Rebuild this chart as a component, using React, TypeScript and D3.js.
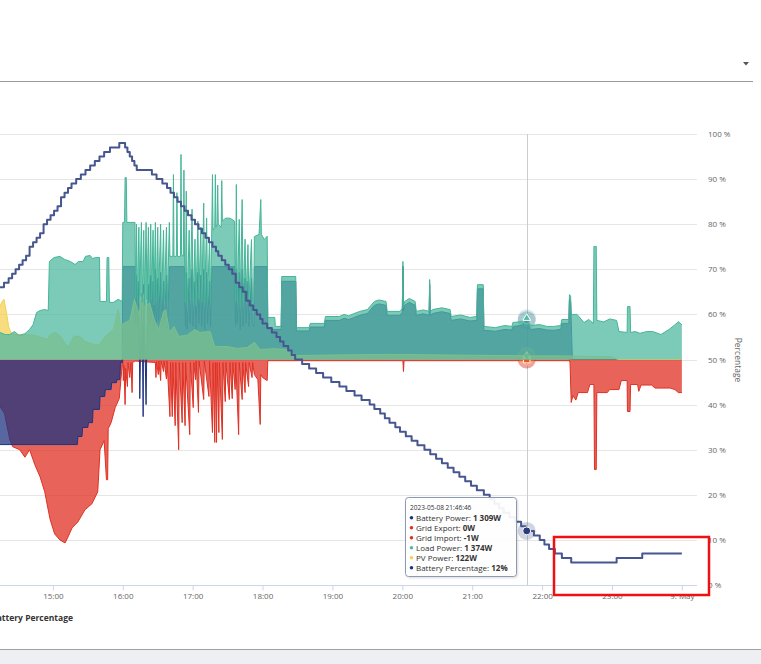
import React, { useEffect, useRef } from 'react';
import * as d3 from 'd3';

// [minutes after 2023-05-08 14:00, value]
type Pt = [number, number];

const loadPower: Pt[] = [
  [14.5, 900], [19, 830], [23, 830], [27, 930], [31, 800], [36, 860], [40, 1000], [43, 1160], [46, 1560], [49, 1630],
  [53, 1660], [56, 1630], [57, 3260], [61, 3390], [66, 3430], [70, 3330], [75, 3260], [79, 3160], [82, 3260], [86, 3260],
  [88, 3430], [92, 3460], [94, 3360], [97, 3390], [100, 3390], [100.5, 1930], [106, 1930], [106.5, 3390], [108, 3390],
  [108.5, 1900], [112, 1900], [116, 2000], [119.5, 1930],
  [120, 4560], [121.5, 4560], [122, 6050], [123, 6050], [123.5, 4560], [130.5, 4560],
  [131, 2000], [131.8, 4500], [132.6, 1900], [133.8, 4400], [134.6, 2100], [136, 4560], [136.8, 1900], [138, 4300],
  [138.8, 1800], [140, 4560], [140.8, 2000], [142, 4400], [142.8, 1900], [144, 4500], [144.8, 2000], [146, 4300],
  [146.8, 1800], [148, 4560], [148.8, 1900], [150, 4400], [150.8, 2100], [152.5, 4500], [153.3, 1900], [155, 4300],
  [155.8, 2000], [157.5, 4400], [158.3, 1900], [160, 4560],
  [160.5, 3430], [163, 3430], [163.5, 6150], [164, 3430], [166, 3430], [166.5, 5550], [167, 3430], [169.5, 3430],
  [170, 6820], [170.5, 3500], [172, 3430], [172.5, 6300], [173, 3400],
  [173.8, 1900], [174.5, 5600], [175.3, 1800], [177, 4300], [177.8, 2000], [179.5, 5000], [180.3, 1900], [182, 4000],
  [182.8, 1800], [184.5, 4600], [185.3, 2000], [187, 4400], [187.8, 1900], [189.5, 5200], [190.3, 1800], [192, 4700],
  [192.8, 2000], [194.5, 4000], [195.3, 1900],
  [196.5, 4500], [197, 6150], [197.5, 4300], [199, 4400], [199.5, 6150], [200, 4400], [201, 4500], [201.5, 5800],
  [202, 4500], [204.5, 4400], [205, 5950], [205.5, 4600], [208, 4700], [212, 4700], [216, 4600],
  [216.8, 1900], [217.5, 5820], [218.3, 2000], [220, 4660], [220.8, 1800], [222.5, 5320], [223.3, 1900], [225, 4000],
  [225.8, 2000], [227.5, 3820], [228.3, 1900], [230.5, 3990], [231.3, 2000], [232.5, 1900],
  [233, 4090], [237, 4160], [238.5, 5320], [239, 4160], [241.5, 3990], [244, 4100],
  [244.5, 1400], [250.5, 1400], [251, 1100], [256, 1100], [256.5, 2760], [268.5, 2760], [269, 1060], [280, 1060],
  [281, 1200], [293, 1200], [294, 1430], [306, 1430], [310, 1500], [314, 1450], [318, 1520], [323.5, 1600], [330, 1660],
  [336, 1930], [340, 1980], [346, 1930], [347, 1600], [358, 1600], [360, 1700], [360.5, 3260], [361, 1750], [362, 1930],
  [366, 2030], [371, 1930], [372, 1600], [378, 1650], [383, 1600], [383.5, 2660], [384, 1600], [386, 1660], [394, 1720],
  [401, 1660], [402, 1430], [410, 1480], [418, 1400], [424, 1430], [424.5, 2490], [429.5, 2490], [430, 1100],
  [440, 1060], [448, 1130], [454, 1100], [455, 1230], [462, 1260], [466.8, 1374], [470, 1130], [478, 1160], [484, 1100],
  [490, 1100], [496, 1130], [497, 1330], [503, 1330], [503.5, 2160], [504.5, 2100], [505, 1500], [510, 1500],
  [516, 1230], [520, 1330], [524, 1200], [524.5, 3760], [526.5, 3760], [527, 1300], [533, 1250], [538, 1350],
  [544, 1300], [546, 930], [553, 900], [553.3, 1760], [555.5, 1760], [556, 900], [560, 930], [564, 870], [570, 930],
  [575, 930], [582, 830], [589, 1000], [594, 1150], [597, 1260], [600, 1150],
];

const batteryPower: Pt[] = [
  [14.5, -2830], [81, -2830], [81.5, -2560], [85, -2560], [85.5, -2260], [90, -2260], [90.5, -2100], [94, -2100],
  [94.5, -1660], [100, -1660], [100.5, -1230], [104.5, -1230], [105, -1000], [110, -1000], [110.5, -770], [114.5, -770],
  [115, -670], [117.5, -670], [118, -100], [119.5, -100],
  [120, 3090], [130.5, 3090],
  [131, 1200], [131.8, 2800], [132.6, 1100], [133.8, 2600], [134.6, -1300], [136, 2200], [136.8, 1000], [137.5, -1900],
  [138, 2500], [138.8, 1100], [140, -1500], [140.8, 1000], [142, 2500], [142.8, 1200], [144, 2800], [144.8, 1300],
  [146, 2600], [146.8, 1100], [148, 3000], [148.8, 1200], [150, 2700], [150.8, 1300], [152.5, 2900], [153.3, 1100],
  [155, 2600], [155.8, 1200], [157.5, 2800], [158.3, 1000], [160, 3090],
  [160.5, 3090], [173, 3090],
  [173.8, 1100], [174.5, 2900], [175.3, 1000], [177, 2700], [177.8, 1200], [179.5, 3000], [180.3, 1100], [182, 2600],
  [182.8, 1000], [184.5, 2900], [185.3, 1200], [187, 2800], [187.8, 1100], [189.5, 3000], [190.3, 1000], [192, 2900],
  [192.8, 1200], [194.5, 2600], [195.3, 1100],
  [196.5, 3090], [216, 3090],
  [216.8, 1100], [217.5, 3000], [218.3, 1200], [220, 2900], [220.8, 1000], [222.5, 3000], [223.3, 1100], [225, 2700],
  [225.8, 1200], [227.5, 2600], [228.3, 1100], [230.5, 2700], [231.3, 1200], [232.5, 1100],
  [233, 3090], [244, 3090],
  [244.5, 1000], [256, 1000], [256.5, 2600], [268.5, 2600], [269, 950], [280, 950], [281, 1080], [293, 1080],
  [294, 1300], [306, 1300], [310, 1370], [314, 1330], [318, 1390], [323.5, 1470], [330, 1530], [336, 1800], [340, 1850],
  [346, 1800], [347, 1470], [358, 1470], [360, 1570], [360.5, 3100], [361, 1620], [362, 1800], [366, 1900], [371, 1800],
  [372, 1470], [378, 1520], [383, 1470], [383.5, 2500], [384, 1470], [386, 1530], [394, 1590], [401, 1530], [402, 1300],
  [410, 1350], [418, 1280], [424, 1300], [424.5, 2350], [429.5, 2350], [430, 970], [440, 940], [448, 1000], [454, 980],
  [455, 1100], [462, 1130], [466.8, 1309], [470, 1000], [478, 1030], [484, 980], [490, 970], [496, 1000], [497, 1200],
  [503, 1200], [503.5, 2000], [504.5, 1900], [505, 1300], [506, 0], [600, 0],
];

const pvPower: Pt[] = [
  [14.5, 1760], [16, 1900], [18, 2000], [20, 1600], [22, 1100], [24, 900], [27, 830], [35, 830], [45, 800], [55, 670],
  [58, 830], [62, 900], [66, 800], [73, 400], [78, 770], [83, 770], [88, 600], [95, 500], [100, 500], [105, 770],
  [112, 1000], [116, 1660], [118, 1160], [121, 1200], [126, 1300], [130, 2000], [134, 1500], [137, 2230], [140, 1760],
  [143, 1900], [147, 1330], [151, 1000], [155, 1600], [157, 1660], [160, 900], [164, 1100], [168, 770], [175, 800],
  [182, 1000], [186, 900], [195, 930], [199, 430], [210, 430], [218, 370], [227, 400], [233, 570], [238, 330],
  [250, 360], [262, 330], [268, 130], [300, 150], [350, 170], [400, 150], [450, 130], [466.8, 122], [500, 120],
  [540, 90], [545, 0], [600, 0],
];

const gridExport: Pt[] = [
  [14.5, -1560], [18.5, -1800], [23, -2660], [25.5, -2900], [31.5, -3000], [36, -3250], [40, -3000], [44.5, -3500],
  [49, -3900], [53, -4400], [57.5, -5300], [61.5, -5800], [66, -6000], [70.5, -6100], [73, -5900], [76.5, -5600],
  [81.5, -5400], [87.5, -5000], [93.5, -4800], [98.5, -4400], [100.5, -3000], [104, -2700], [106, -4000], [107, -4000],
  [107.5, -2300], [110, -2100], [113.5, -1600], [117, -1300], [119, -400], [120, 0],
  [120.5, -700], [121, -200], [122, -1500], [122.5, -300], [124, -900], [124.5, -100], [126, -600], [127, -100],
  [128, -1100], [128.5, -100], [130.5, -50], [148, -100], [148.5, -600], [149, -50], [150.5, -500], [151, -50],
  [152.5, -700], [153, -50], [155, -400], [155.5, -50], [157.5, -650], [158, -50],
  [160.5, -1900], [161, -100], [162.5, -1900], [163, -100], [165, -2200], [165.5, -100], [168, -3000], [168.5, -100],
  [171, -2100], [171.5, -100], [173.5, -2200], [174, -100], [177.5, -2500], [178, -100], [180.5, -1600], [181, -100],
  [182.5, -670], [183, -50], [185, -1760], [185.5, -50], [189.5, -1330], [190, -50], [194, -1230], [194.5, -50],
  [197, -2430], [197.5, -100], [199, -2760], [199.5, -100], [200.5, -2760], [201, -100], [202.5, -2430], [203, -100],
  [205.5, -2660], [206, -100], [208, -1400], [208.5, -100], [211.5, -1330], [212, -100], [214, -1300], [214.5, -100],
  [216.5, -1000], [217, -100], [219.5, -2500], [220, -100], [222.5, -1330], [223, -100], [225, -1100], [225.5, -100],
  [228, -900], [228.5, -100], [231, -600], [231.5, -100], [233, -500], [236, -670], [238, -2160], [238.5, -500],
  [240, -600], [244, -700], [244.5, -40], [360.5, -40], [361, -400], [361.5, -40], [503, -40], [504, 0], [600, 0],
];

const gridImport: Pt[] = [
  [503, 0], [504, -100], [505, -1430], [506.5, -1200], [509, -1350], [511, -1100], [519, -1100], [521, -830],
  [524.5, -830], [525, -3660], [526.5, -3660], [527, -1100], [536, -1100], [538, -1000], [546, -1000], [548, -700],
  [553, -700], [553.3, -1730], [555.5, -1730], [556, -830], [562, -830], [563, -1060], [565, -850], [574, -850],
  [577, -950], [590, -950], [594, -1000], [597, -1100], [600, -1100],
];

const batteryPercentage: Pt[] = [
  [14.5, 66], [18, 67], [22, 68], [25, 69], [28, 70], [31, 71], [34, 72], [37, 73], [40, 75], [43, 76], [46, 77],
  [49, 78], [52, 80], [55, 81], [58, 82], [61, 83], [64, 84], [67, 86], [70, 87], [73, 88], [76, 89], [80, 90],
  [84, 91], [88, 92], [92, 93], [96, 94], [100, 95], [104, 96], [109, 97], [117, 98], [120, 98],
  [122, 97], [124, 96], [126, 95], [128, 94], [130, 93], [132, 92], [145, 91], [149, 90], [154, 89], [158, 88],
  [161, 87], [164, 86], [167, 85], [170, 84], [173, 83], [176, 82], [179, 81], [182, 80], [185, 79], [188, 78],
  [191, 77], [194, 76], [197, 75], [200, 74], [202, 73], [205, 72], [208, 71], [211, 70], [214, 69], [217, 67],
  [220, 66], [223, 65], [226, 63], [229, 62], [232, 61], [235, 60], [238, 59], [240, 58], [244, 57], [248, 56],
  [252, 55], [255, 54], [258, 53], [262, 52], [265, 51], [268, 50], [274, 49], [280, 48], [286, 47], [292, 46],
  [299, 45], [306, 44], [312, 43], [319, 42], [325, 41], [332, 40], [336, 39], [341, 38], [345, 37], [349, 36],
  [354, 35], [358, 34], [363, 33], [368, 32], [373, 31], [379, 30], [384, 29], [389, 28], [394, 27], [399, 26],
  [404, 25], [409, 24], [414, 23], [419, 22], [424, 21], [430, 20], [435, 19], [439, 18], [443, 17], [447, 16],
  [452, 15], [457, 14], [462, 13], [466, 12], [473, 11], [478, 10], [482, 9], [486, 8], [491, 7], [497, 6], [505, 5],
  [544, 6], [566, 7], [600, 7],
];

const percentTicks = [0, 10, 20, 30, 40, 50, 60, 70, 80, 90, 100];

const hoverMinute = 466.8;
const tooltipHeader = '2023-05-08 21:46:46';
const tooltipLabels = ['Battery Power', 'Grid Export', 'Grid Import', 'Load Power', 'PV Power', 'Battery Percentage'];
const tooltipValues = ['1 309W', '0W', '-1W', '1 374W', '122W', '12%'];
const hoverValues = [1309, 0, -1, 1374, 122, 12];

const NAVY = '#1f3480';
const RED = '#e03023';
const TEAL = '#50baa2';
const YELLOW = '#f5d055';
const PCT = '#46568f';

export default function App() {
  const svgRef = useRef<SVGSVGElement>(null);

  useEffect(() => {
    if (!svgRef.current) return;
    const W = 761, H = 664;
    const svg = d3.select(svgRef.current).attr('width', W).attr('height', H)
      .style('font-family', '"Open Sans", "Noto Sans", sans-serif');
    svg.selectAll('*').remove();

    const t0 = new Date(2023, 4, 8, 14, 0, 0);
    const toDate = (m: number) => new Date(t0.getTime() + m * 60000);

    const plotLeft = -17, plotRight = 697, plotTop = 134, plotBottom = 585;
    const x = d3.scaleTime().domain([t0, toDate(613)]).range([plotLeft, plotRight]);
    const yPct = d3.scaleLinear().domain([0, 100]).range([plotBottom, plotTop]);
    const yW = d3.scaleLinear().domain([-7500, 7500]).range([plotBottom, plotTop]);

    // header (select box)
    svg.append('line').attr('x1', 0).attr('x2', 753).attr('y1', 81.5).attr('y2', 81.5)
      .attr('stroke', '#9a9a9a').attr('stroke-width', 1.2);
    svg.append('path').attr('d', 'M743,62 L749,62 L746,65.5 Z').attr('fill', '#555');

    // gridlines
    svg.append('g').selectAll('line').data(percentTicks.filter(d => d > 0)).join('line')
      .attr('x1', 0).attr('x2', plotRight)
      .attr('y1', d => Math.round(yPct(d)) + 0.5).attr('y2', d => Math.round(yPct(d)) + 0.5)
      .attr('stroke', '#e6e6e6');

    const xh = x(toDate(hoverMinute));
    svg.append('line').attr('x1', Math.round(xh) + 0.5).attr('x2', Math.round(xh) + 0.5)
      .attr('y1', plotTop).attr('y2', plotBottom).attr('stroke', '#cccccc');

    const defs = svg.append('defs');
    defs.append('clipPath').attr('id', 'plotclip').append('rect')
      .attr('x', plotLeft).attr('y', plotTop - 10).attr('width', plotRight - plotLeft).attr('height', plotBottom - plotTop + 10);
    const shadow = defs.append('filter').attr('id', 'ttshadow').attr('x', '-10%').attr('y', '-10%')
      .attr('width', '130%').attr('height', '130%');
    shadow.append('feDropShadow').attr('dx', 1).attr('dy', 1).attr('stdDeviation', 1)
      .attr('flood-color', '#000').attr('flood-opacity', 0.15);

    const plot = svg.append('g').attr('clip-path', 'url(#plotclip)');
    const area = d3.area<Pt>().x(d => x(toDate(d[0]))).y0(yW(0)).y1(d => yW(d[1]));
    const line = d3.line<Pt>().x(d => x(toDate(d[0]))).y(d => yW(d[1]));

    const halo = (g: any, cy: number, color: string) =>
      g.append('circle').attr('cx', xh).attr('cy', cy).attr('r', 9).attr('fill', color).attr('opacity', 0.25);
    const marker = (g: any, type: any, cy: number, color: string, size = 42) =>
      g.append('path').attr('d', d3.symbol().type(type).size(size)()).attr('transform', `translate(${xh},${cy})`)
        .attr('fill', color).attr('stroke', '#fff').attr('stroke-width', 1);

    const series = (data: Pt[], color: string, type: any, hv: number) => {
      const g = plot.append('g');
      g.append('path').datum(data).attr('d', area).attr('fill', color).attr('fill-opacity', 0.75);
      g.append('path').datum(data).attr('d', line).attr('fill', 'none').attr('stroke', color).attr('stroke-width', 1);
      halo(g, yW(hv), color);
      marker(g, type, yW(hv), color);
    };

    series(gridExport, RED, d3.symbolDiamond, hoverValues[1]);
    series(gridImport, RED, d3.symbolSquare, hoverValues[2]);
    series(batteryPower, NAVY, d3.symbolCircle, hoverValues[0]);
    series(pvPower, YELLOW, d3.symbolTriangle2, hoverValues[4]);
    const lg = plot.append('g');
    lg.append('path').datum(loadPower).attr('d', area).attr('fill', TEAL).attr('fill-opacity', 0.75);
    lg.append('path').datum(loadPower).attr('d', line).attr('fill', 'none').attr('stroke', '#45b598').attr('stroke-width', 1);
    // PV marker is a downward triangle
    lg.append('path').attr('d', d3.symbol().type(d3.symbolTriangle2).size(34)())
      .attr('transform', `translate(${xh},${yW(hoverValues[4])}) rotate(180)`).attr('fill', '#6cb98f');
    halo(lg, yW(hoverValues[3]), TEAL);
    marker(lg, d3.symbolTriangle2, yW(hoverValues[3]), TEAL);

    // battery percentage
    const pctLine = d3.line<Pt>().x(d => x(toDate(d[0]))).y(d => yPct(d[1])).curve(d3.curveStepAfter);
    plot.append('path').datum(batteryPercentage).attr('d', pctLine).attr('fill', 'none')
      .attr('stroke', PCT).attr('stroke-width', 2).attr('stroke-linejoin', 'round');
    halo(plot, yPct(hoverValues[5]), PCT);
    marker(plot, d3.symbolCircle, yPct(hoverValues[5]), '#2a3a7a', 50);

    // x axis (ticks that fall inside the visible page)
    const hourTicks = d3.timeHour.every(1)!.range(toDate(60), toDate(601));
    const xAxis = d3.axisBottom(x).tickValues(hourTicks).tickSize(5).tickPadding(3)
      .tickFormat((d: any) => (d.getHours() === 0 ? '9. May' : d3.timeFormat('%H:%M')(d)));
    const gx = svg.append('g').attr('transform', `translate(0,${plotBottom + 0.5})`).call(xAxis);
    gx.select('.domain').remove();
    gx.selectAll('.tick line').attr('stroke', '#ccd6eb');
    gx.selectAll('.tick text').attr('fill', '#666').attr('font-size', '8px')
      .attr('font-family', '"Open Sans", sans-serif');
    svg.append('line').attr('x1', 0).attr('x2', plotRight).attr('y1', plotBottom + 0.5).attr('y2', plotBottom + 0.5)
      .attr('stroke', '#ccd6eb');

    // right percentage axis
    const yAxis = d3.axisRight(yPct).tickValues(percentTicks).tickSize(0).tickPadding(11)
      .tickFormat((d: any) => `${d} %`);
    const gy = svg.append('g').attr('transform', `translate(${plotRight},0)`).call(yAxis);
    gy.select('.domain').remove();
    gy.selectAll('.tick text').attr('fill', '#666').attr('font-size', '8px')
      .attr('font-family', '"Open Sans", sans-serif');
    svg.append('text').attr('x', 738).attr('y', 360).attr('transform', 'rotate(90,738,360)')
      .attr('text-anchor', 'middle').attr('dominant-baseline', 'central').attr('fill', '#666')
      .attr('font-size', '8.5px').text('Percentage');

    // tooltip
    const tt = svg.append('g');
    tt.append('rect').attr('x', 405.5).attr('y', 497.5).attr('width', 111).attr('height', 79).attr('rx', 3)
      .attr('fill', 'rgba(255,255,255,0.92)').attr('stroke', '#8d99b3').attr('filter', 'url(#ttshadow)');
    tt.append('text').attr('x', 410).attr('y', 509.5).attr('font-size', '6.5px').attr('fill', '#333').text(tooltipHeader);
    const dotColors = [NAVY, RED, RED, TEAL, YELLOW, NAVY];
    tooltipLabels.forEach((lab, i) => {
      const yy = 520.5 + i * 10;
      tt.append('circle').attr('cx', 411.5).attr('cy', yy - 2.7).attr('r', 1.8).attr('fill', dotColors[i]);
      const tx = tt.append('text').attr('x', 416).attr('y', yy).attr('font-size', '8px').attr('fill', '#333');
      tx.append('tspan').text(`${lab}: `);
      tx.append('tspan').attr('font-weight', 'bold').text(tooltipValues[i]);
    });

    // legend (its start lies left of the page, as in the screenshot)
    svg.append('text').attr('x', 73).attr('y', 621).attr('text-anchor', 'end').attr('font-size', '8.5px')
      .attr('font-weight', 'bold').attr('fill', '#333').text('Battery Percentage');

    // footer band
    svg.append('rect').attr('x', 0).attr('y', 650).attr('width', W).attr('height', 14).attr('fill', '#eeeff3');
    svg.append('line').attr('x1', 0).attr('x2', W).attr('y1', 649.5).attr('y2', 649.5).attr('stroke', '#a0a0a0');

    // red annotation box
    svg.append('rect').attr('x', 554).attr('y', 537).attr('width', 155).attr('height', 58)
      .attr('fill', 'none').attr('stroke', '#ee1111').attr('stroke-width', 2.5);
  }, []);

  return (
    <div style={{ position: 'absolute', left: 0, top: 0, width: 761, height: 664, background: '#fff', overflow: 'hidden' }}>
      <svg ref={svgRef} style={{ display: 'block' }}></svg>
    </div>
  );
}
